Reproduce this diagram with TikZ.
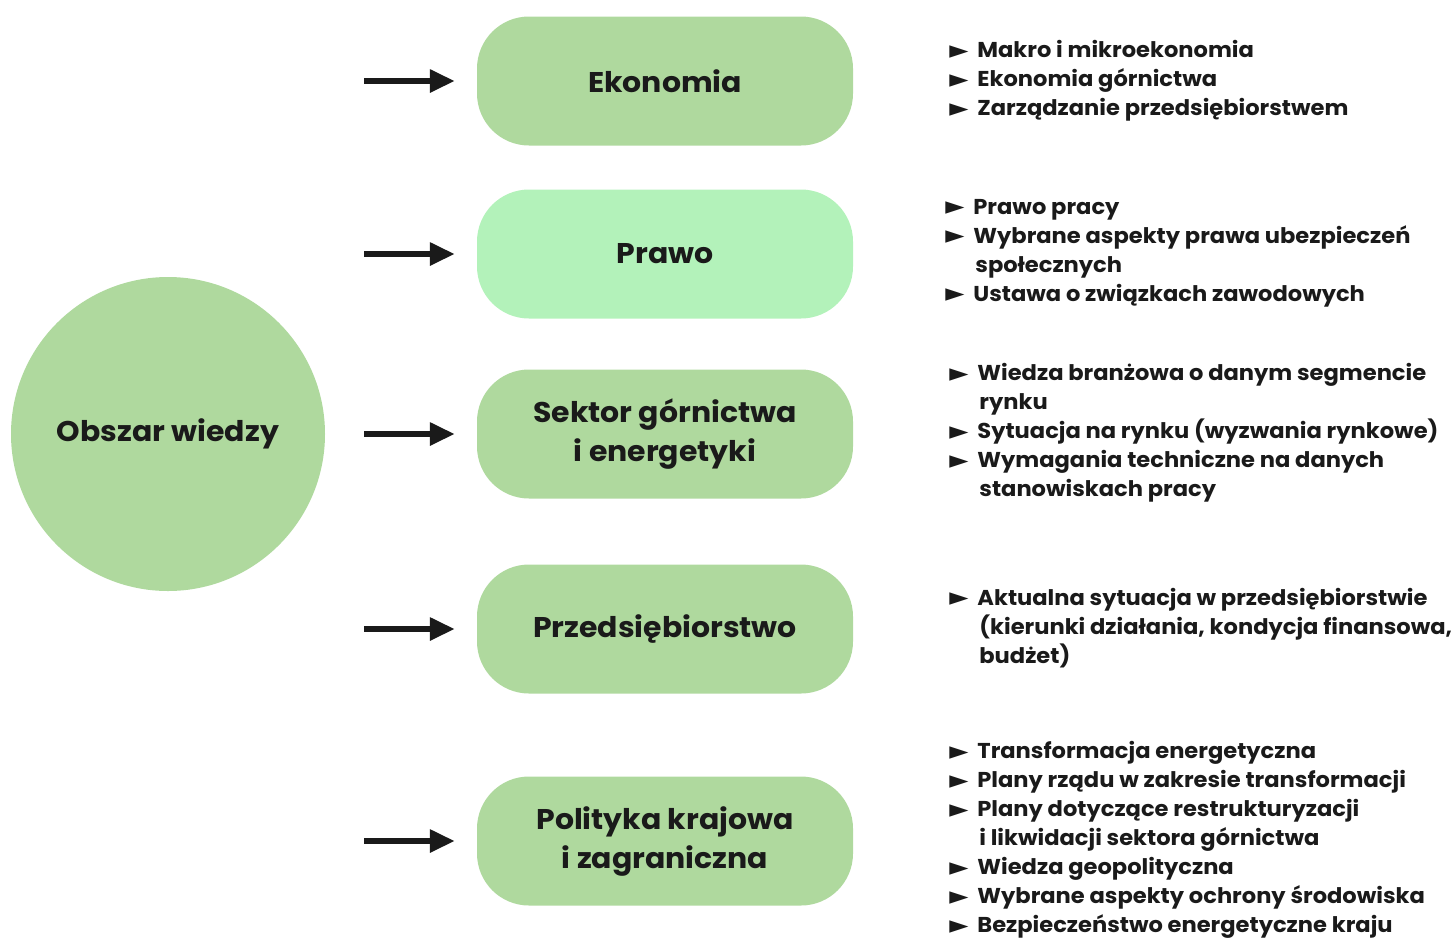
\documentclass[tikz,border=0pt]{standalone}
\usepackage{fontspec}
\setmainfont{Poppins}[FakeStretch=1.05]
\newfontfamily\symf{DejaVu Sans}
\usetikzlibrary{arrows.meta,calc}
\definecolor{boxgreen}{HTML}{AFD99E}
\definecolor{lightgreen}{HTML}{B3F2BA}
\definecolor{ink}{HTML}{1A1A1A}
\newcommand\bl{\makebox[28pt][l]{\raisebox{-0.5pt}{\fontsize{25}{25}\selectfont\symf ►}}}
\newcommand\ind{\hspace*{30pt}}
\begin{document}
\begin{tikzpicture}[x=1pt,y=-1pt,
  topic/.style={draw=none, fill=boxgreen, rounded corners=52pt, minimum width=376pt,
    minimum height=129pt, align=center, text=ink, inner sep=0pt,
    font=\fontsize{28.5}{39}\selectfont\bfseries},
  hub/.style={circle, draw=none, fill=boxgreen, minimum size=314pt, text=ink,
    font=\fontsize{28.5}{36}\selectfont\bfseries},
  items/.style={anchor=west, align=left, text=ink, inner sep=0pt,
    font=\fontsize{21.5}{29}\selectfont\bfseries},
  feed/.style={-{Triangle[length=25pt,width=22pt]}, line width=6pt, draw=ink}]
\useasboundingbox (0,0) rectangle (1453,938);
\node[hub] (hub) at (168,434) {Obszar wiedzy};

\node[topic] (e) at (665,81) {Ekonomia};
\node[topic, fill=lightgreen] (p) at (665,254) {Prawo};
\node[topic] (s) at (665,434) {Sektor górnictwa\\i energetyki};
\node[topic] (f) at (665,629) {Przedsiębiorstwo};
\node[topic] (k) at (665,841) {Polityka krajowa\\i zagraniczna};

\foreach \b/\y in {e/81,p/254,s/434,f/629,k/841}{
  \coordinate (start-\b) at (364,\y);
  \draw[feed] (start-\b) -- ([xshift=-22pt]\b.west);
}

\node[items] (le) at ($(e.east)+(96,0)$) {\bl Makro i mikroekonomia\\
\bl Ekonomia górnictwa\\
\bl Zarządzanie przedsiębiorstwem};

\node[items] (lp) at ($(p.east)+(92,-1)$) {\bl Prawo pracy\\
\bl Wybrane aspekty prawa ubezpieczeń\\
\ind społecznych\\
\bl Ustawa o związkach zawodowych};

\node[items] (ls) at ($(s.east)+(96,-1)$) {\bl Wiedza branżowa o danym segmencie\\
\ind rynku\\
\bl Sytuacja na rynku (wyzwania rynkowe)\\
\bl Wymagania techniczne na danych\\
\ind stanowiskach pracy};

\node[items] (lf) at ($(f.east)+(96,-1)$) {\bl Aktualna sytuacja w przedsiębiorstwie\\
\ind (kierunki działania, kondycja finansowa,\\
\ind budżet)};

\node[items] (lk) at ($(k.east)+(96,-1)$) {\bl Transformacja energetyczna\\
\bl Plany rządu w zakresie transformacji\\
\bl Plany dotyczące restrukturyzacji\\
\ind i likwidacji sektora górnictwa\\
\bl Wiedza geopolityczna\\
\bl Wybrane aspekty ochrony środowiska\\
\bl Bezpieczeństwo energetyczne kraju};
\end{tikzpicture}
\end{document}
